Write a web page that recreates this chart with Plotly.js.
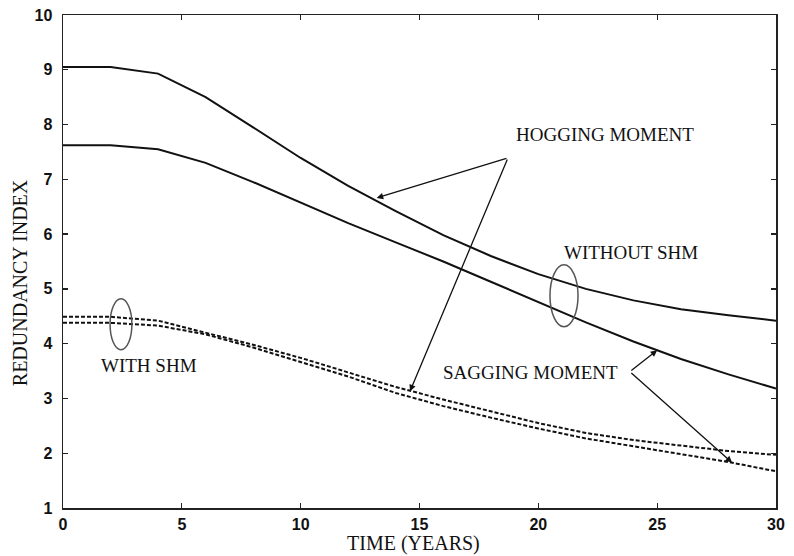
<!DOCTYPE html>
<html>
<head>
<meta charset="utf-8">
<script src="https://cdn.plot.ly/plotly-3.0.1.min.js"></script>
<style>html,body{margin:0;padding:0;background:#fff;}#chart{width:794px;height:556px;}</style>
</head>
<body>
<div id="chart"></div>
<script>
// Time in years
const years = [0, 2, 4, 6, 8, 10, 12, 14, 16, 18, 20, 22, 24, 26, 28, 30];
// Without SHM
const hoggingNoSHM = [9.05, 9.05, 8.93, 8.5, 7.95, 7.39, 6.88, 6.42, 5.98, 5.6, 5.27, 5.0, 4.79, 4.63, 4.52, 4.42];
const saggingNoSHM = [7.62, 7.62, 7.55, 7.3, 6.95, 6.57, 6.2, 5.85, 5.5, 5.13, 4.76, 4.39, 4.04, 3.72, 3.44, 3.18];
// With SHM
const hoggingSHM = [4.49, 4.49, 4.42, 4.2, 3.98, 3.74, 3.48, 3.21, 2.98, 2.76, 2.55, 2.37, 2.24, 2.14, 2.04, 1.97];
const saggingSHM = [4.38, 4.38, 4.33, 4.17, 3.93, 3.67, 3.40, 3.10, 2.86, 2.65, 2.45, 2.27, 2.13, 1.99, 1.84, 1.67];

const xTicks = [0, 5, 10, 15, 20, 25, 30];
const yTicks = [1, 2, 3, 4, 5, 6, 7, 8, 9, 10];

// Callout labels: [text, x, y]
const labels = [
  ["HOGGING MOMENT", 18.98, 7.81],
  ["WITHOUT SHM", 20.98, 5.66],
  ["WITH SHM", 1.5, 3.61],
  ["SAGGING MOMENT", 15.9, 3.47]
];
// Arrows: [tailX, tailY, headX, headY]
const arrows = [
  [18.72, 7.39, 13.2, 6.66],
  [18.72, 7.39, 14.6, 3.13],
  [23.85, 3.49, 25.0, 3.88],
  [23.85, 3.49, 28.15, 1.83]
];
// Ellipses: [x0, x1, y0, y1]
const ellipses = [
  [20.49, 21.67, 4.31, 5.44],
  [1.98, 2.90, 3.89, 4.82]
];

const serif = "Liberation Serif, Times New Roman, serif";
const sans = "Liberation Sans, Arial, sans-serif";

const solid = {color: '#111', width: 2};
const dashed = {color: '#111', width: 2, dash: '4px,2px'};
const traces = [
  {x: years, y: hoggingNoSHM, mode: 'lines', line: solid, name: 'Hogging (without SHM)'},
  {x: years, y: saggingNoSHM, mode: 'lines', line: solid, name: 'Sagging (without SHM)'},
  {x: years, y: hoggingSHM, mode: 'lines', line: dashed, name: 'Hogging (with SHM)'},
  {x: years, y: saggingSHM, mode: 'lines', line: dashed, name: 'Sagging (with SHM)'}
];

const annotations = [];
labels.forEach(l => annotations.push({
  text: l[0], x: l[1], y: l[2], xref: 'x', yref: 'y', xanchor: 'left', yanchor: 'middle',
  showarrow: false, font: {family: serif, size: 19, color: '#111'}
}));
arrows.forEach(a => annotations.push({
  text: '', x: a[2], y: a[3], ax: a[0], ay: a[1], xref: 'x', yref: 'y', axref: 'x', ayref: 'y',
  showarrow: true, arrowhead: 2, arrowsize: 1, arrowwidth: 1.3, arrowcolor: '#111', standoff: 0
}));
annotations.push({
  text: 'REDUNDANCY INDEX', xref: 'paper', yref: 'paper', x: -0.0603, y: 0.456,
  xanchor: 'center', yanchor: 'middle', textangle: -90, showarrow: false,
  font: {family: serif, size: 20, color: '#111'}
});
annotations.push({
  text: 'TIME (YEARS)', xref: 'paper', yref: 'paper', x: 0.491, y: -0.071,
  xanchor: 'center', yanchor: 'middle', showarrow: false,
  font: {family: serif, size: 20, color: '#111'}
});

const shapes = ellipses.map(e => ({
  type: 'circle', xref: 'x', yref: 'y', x0: e[0], x1: e[1], y0: e[2], y1: e[3],
  line: {color: '#555', width: 1.5}
}));

const axisCommon = {
  showgrid: false, zeroline: false, showline: true, linecolor: '#222', linewidth: 1.5,
  mirror: 'ticks', ticks: 'inside', ticklen: 5, tickwidth: 1.3, tickcolor: '#222',
  tickfont: {family: sans, size: 16, color: '#111', weight: 700}
};

const layout = {
  width: 794, height: 556,
  margin: {l: 63, r: 18, t: 15, b: 48},
  paper_bgcolor: '#fff', plot_bgcolor: '#fff',
  showlegend: false,
  xaxis: Object.assign({}, axisCommon, {range: [0, 30], tickvals: xTicks, ticklabelstandoff: 1}),
  yaxis: Object.assign({}, axisCommon, {range: [1, 10], tickvals: yTicks, ticklabelstandoff: 6}),
  annotations: annotations,
  shapes: shapes
};

Plotly.newPlot('chart', traces, layout, {displayModeBar: false, staticPlot: true});
</script>
</body>
</html>
